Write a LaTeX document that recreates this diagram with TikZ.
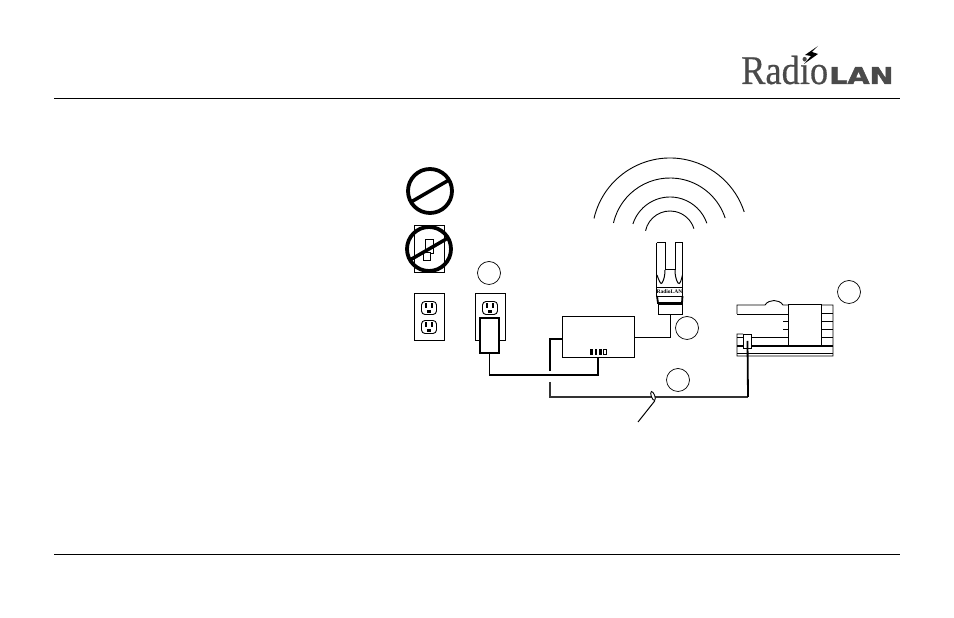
\documentclass[tikz,border=0pt]{standalone}
\usepackage{fontspec}
\setmainfont{Liberation Serif}
\newfontfamily\radiofont[FakeBold=0.5]{Liberation Serif}
\newfontfamily\lanfont[FakeBold=2]{DejaVu Sans}
\usetikzlibrary{positioning, shapes.geometric, calc}
\definecolor{logogray}{HTML}{4A4A4A}
\tikzset{
  outline/.style={draw, line width=0.9pt, fill=white, inner sep=0pt},
  ringlabel/.style={circle, draw, line width=0.7pt, minimum size=23pt, inner sep=0pt},
  nosign/.style={circle, draw, line width=3.8pt, minimum size=44pt, inner sep=0pt},
  socket/.style={draw, rounded corners=3.5pt, line width=0.9pt, minimum width=15pt, minimum height=13pt, inner sep=0pt},
  slot/.style={fill, inner sep=0pt, minimum width=2.6pt, minimum height=5pt},
  hole/.style={fill, inner sep=0pt, minimum width=3.4pt, minimum height=3pt},
  led/.style={fill, inner sep=0pt, minimum width=2.6pt, minimum height=6pt},
  cable/.style={line width=1.8pt},
  wire/.style={line width=1pt}
}
\begin{document}
\begin{tikzpicture}[x=1pt, y=1pt]
    \useasboundingbox (0,0) rectangle (954,618);
    % page rules
    \coordinate (ruletopl) at (54,519.5);
    \coordinate (ruletopr) at (900,519.5);
    \coordinate (rulebotl) at (54,63.5);
    \coordinate (rulebotr) at (900,63.5);
    \draw[line width=0.9pt] (ruletopl) -- (ruletopr);
    \draw[line width=0.9pt] (rulebotl) -- (rulebotr);
    % logo
    \node[anchor=base west, inner sep=0pt, text=logogray, yscale=1.12, font=\radiofont\fontsize{36.4}{36}\selectfont] (logoradio) at (741,534) {Radio};
    \node[anchor=base west, inner sep=0pt, text=logogray, xscale=1.3, yscale=1.05, font=\lanfont\bfseries\fontsize{22}{22}\selectfont] (logolan) at (829,534) {LAN};
    \fill (818,572) -- (805,563) -- (811,562) -- (804,554) -- (818,564) -- (812,566) -- cycle;
    % crossed out switch and plug
    \node[nosign] (signtop) at (430,427) {};
    \draw[line width=3.5pt] (411,416) -- (449,438);
    \node[outline, minimum width=30pt, minimum height=47pt] (plate) at (429,369.5) {};
    \node[outline, minimum width=8pt, minimum height=14pt] (toggle) at (429,372) {};
    \node[outline, minimum width=7pt, minimum height=8pt] (togglehandle) at (426.5,362) {};
    \node[nosign] (signswitch) at (429,369) {};
    \draw[line width=3.5pt] (410,358) -- (448,380);
    % wall outlets
    \node[outline, minimum width=30pt, minimum height=47pt] (outleta) at (429,301.5) {};
    \node[outline, minimum width=30pt, minimum height=47pt] (outletb) at (490,301.5) {};
    \foreach \name/\cx/\cy in {sa/429/310, sb/429/291, sc/490/310} {
      \node[socket] (\name) at (\cx,\cy) {};
      \node[slot] at (\cx-3,\cy+2) {};
      \node[slot] at (\cx+3,\cy+2) {};
      \node[hole] at (\cx,\cy-3.5) {};
    }
    \node[outline, line width=1.2pt, minimum width=19pt, minimum height=35pt] (adapter) at (489.5,282.5) {};
    % numbered rings
    \node[ringlabel] (ringa) at (489,345) {};
    \node[ringlabel] (ringb) at (687,290) {};
    \node[ringlabel] (ringc) at (678,238) {};
    \node[ringlabel] (ringd) at (849,326) {};
    % radio waves
    \coordinate (wavecentre) at (670,382);
    \foreach \r/\sa/\ea in {78/167/18, 58/167/18, 39/162/19, 25/168/17} {
      \draw[line width=0.9pt] ($(wavecentre)+(\sa:\r)$) arc[start angle=\sa, end angle=\ea, radius=\r];
    }
    % antenna
    \draw[line width=1.4pt] (656.5,375) -- (656.5,331);
    \draw[line width=1.1pt] (682.5,375) -- (682.5,331);
    \draw[line width=1pt] (656.5,375) -- (665,375) -- (665,348) -- (675,348) -- (675,375) -- (682.5,375);
    \draw[line width=1pt] (657,343) .. controls (659,337) and (661,333) .. (662,335) .. controls (664,338) and (665,343) .. (665,348);
    \draw[line width=1pt] (675,348) .. controls (675,343) and (676,338) .. (678,335) .. controls (680,333) and (681,337) .. (682.5,343);
    \node[outline, minimum width=26pt, minimum height=9pt, font=\fontsize{5.5}{5}\selectfont\bfseries] (antband) at (669.5,326.5) {RadioLAN};
    \draw[line width=1.8pt] (657,322) -- (658,315) -- (682,315) -- (682.5,322);
    \node[outline, minimum width=24pt, minimum height=10pt] (antbase) at (670,309) {};
    % modem box
    \node[outline, minimum width=72pt, minimum height=41pt] (modem) at (598,281.5) {};
    \foreach \lx in {591.5,596,600.5} {
      \node[led] at (\lx,266) {};
    }
    \node[draw, line width=0.7pt, inner sep=0pt, minimum width=2.6pt, minimum height=5.5pt] (ledlast) at (605,266) {};
    % computer
    \draw[line width=0.9pt] (737,304) -- (737,313) -- (765,313) .. controls (769,319) and (779,319) .. (783,313) -- (833,313) -- (833,262) -- (737,262) -- (737,284) -- (743,284);
    \draw[line width=0.9pt] (737,304) -- (788,304);
    \draw[line width=0.9pt] (737,265) -- (833,265);
    \draw[line width=0.9pt] (737,281) -- (788,281);
    \draw[line width=0.9pt] (783,297) -- (788,297);
    \draw[line width=0.9pt] (783,289) -- (788,289);
    \foreach \sy in {305,297,289,281} {
      \draw[line width=0.9pt] (821,\sy) -- (833,\sy);
    }
    \draw[cable] (737,272) -- (833,272);
    \node[outline, line width=1.3pt, minimum width=33pt, minimum height=41pt, anchor=south west] (cpu) at (788,272) {};
    \node[outline, minimum width=8pt, minimum height=14pt] (jack) at (747.5,277) {};
    % cables
    \coordinate (powerbend) at (598,243);
    \coordinate (dataport) at (562,279);
    \coordinate (datatop) at (550,247);
    \coordinate (datalow) at (550,236);
    \coordinate (databend) at (748,221);
    \coordinate (modemout) at (634,280);
    \coordinate (leaderend) at (638,196);
    \draw[cable] (adapter.south) |- (powerbend) -- (modem.south -| powerbend);
    \draw[cable] (dataport) -| (datatop);
    \draw[line width=1.5pt, black!80] (datalow) |- (databend);
    \draw[cable] (databend) -- (jack.center);
    \draw[wire] (modemout) -| (antbase.south);
    \node[ellipse, outline, minimum width=3.5pt, minimum height=9.5pt, rotate=20] (marker) at (653,222) {};
    \draw[wire] (marker.south) -- (leaderend);
  \end{tikzpicture}
\end{document}
